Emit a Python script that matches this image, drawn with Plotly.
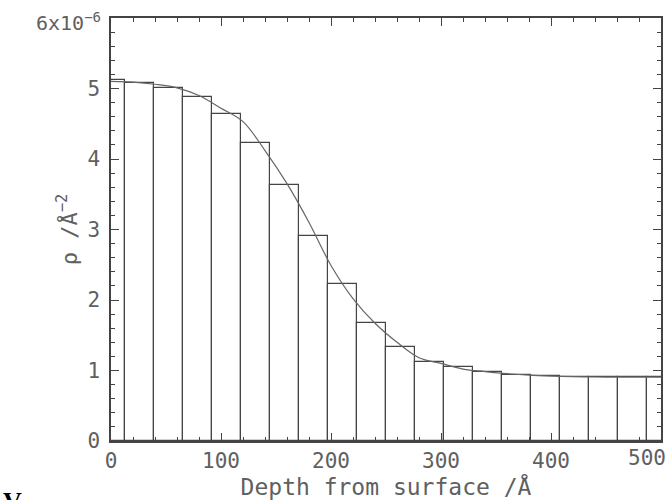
import plotly.graph_objects as go

# Histogram bins (centres, depth in Å) and heights (units of 1e-6 Å^-2)
bin_width = 500 / 19
bin_centers = [i * bin_width for i in range(20)]
bin_heights = [5.12, 5.08, 5.01, 4.88, 4.64, 4.23, 3.63, 2.91, 2.22, 1.68,
               1.33, 1.125, 1.045, 0.975, 0.94, 0.926, 0.91, 0.905, 0.905, 0.905]

# Smooth profile curve
curve_x = [0, 20, 40, 60, 80, 100, 120, 140, 160, 180, 200, 220, 240, 260,
           280, 300, 320, 340, 360, 380, 400, 420, 440, 460, 480, 500]
curve_y = [5.10, 5.09, 5.06, 5.01, 4.90, 4.72, 4.53, 4.12, 3.65, 3.10, 2.49,
           2.02, 1.67, 1.40, 1.18, 1.10, 1.02, 0.985, 0.955, 0.933, 0.92,
           0.912, 0.908, 0.905, 0.905, 0.905]

x_ticks = [0, 100, 200, 300, 400, 500]
x_ticktext = ["0", "100", "200", "300", "400", ""]
y_ticks = [0, 1, 2, 3, 4, 5, 6]
y_ticktext = ["0", "1", "2", "3", "4", "5", ""]

LINE = "#444444"
TXT = "#606060"
FONT = "DejaVu Sans Mono"

fig = go.Figure()
fig.add_trace(go.Bar(x=bin_centers, y=bin_heights, width=bin_width,
                     marker=dict(color="rgba(255,255,255,0)",
                                 line=dict(color=LINE, width=1.2)),
                     showlegend=False))
fig.add_trace(go.Scatter(x=curve_x, y=curve_y, mode="lines", xaxis="x2", yaxis="y2",
                         line=dict(color="#666666", width=1.2, shape="spline"),
                         showlegend=False))

fig.update_layout(
    width=672, height=500,
    margin=dict(l=111, r=11, t=18, b=59),
    paper_bgcolor="white", plot_bgcolor="white",
    bargap=0,
    xaxis=dict(range=[0, 500], tickvals=x_ticks, ticktext=x_ticktext,
               showgrid=False, zeroline=False, showline=True, mirror="allticks",
               linecolor=LINE, linewidth=1.5, ticks="inside", ticklen=8,
               tickwidth=1.3, tickcolor=LINE, automargin=False,
               ticklabelstandoff=0,
               tickfont=dict(family=FONT, size=21, color=TXT),
               title=dict(text="Depth from surface /Å", standoff=1,
                          font=dict(family=FONT, size=23, color=TXT))),
    yaxis=dict(range=[0, 6], tickvals=y_ticks, ticktext=y_ticktext,
               showgrid=False, zeroline=False, showline=True, mirror="allticks",
               linecolor=LINE, linewidth=1.5, ticks="inside", ticklen=8,
               tickwidth=1.3, tickcolor=LINE, automargin=False,
               ticklabelstandoff=5,
               tickfont=dict(family=FONT, size=21, color=TXT),
               title=dict(text="ρ /Å<sup>−2</sup>", standoff=4,
                          font=dict(family=FONT, size=22, color=TXT))),
    # minor-tick axes sharing the same scale
    xaxis2=dict(range=[0, 500], overlaying="x", anchor="y2", side="bottom",
                tickmode="linear", tick0=0, dtick=20, ticks="inside", ticklen=4,
                tickwidth=1.2, tickcolor=LINE, showticklabels=False,
                mirror="allticks", showline=False, showgrid=False, zeroline=False,
                automargin=False),
    yaxis2=dict(range=[0, 6], overlaying="y", anchor="x2", side="left",
                tickmode="linear", tick0=0, dtick=0.2, ticks="inside", ticklen=4,
                tickwidth=1.2, tickcolor=LINE, showticklabels=False,
                mirror="allticks", showline=False, showgrid=False, zeroline=False,
                automargin=False),
    annotations=[
        dict(text="6x10<sup>−6</sup>", xref="paper", yref="paper",
             x=-0.015, y=1.0, xanchor="right", yanchor="middle", yshift=-4,
             showarrow=False, font=dict(family=FONT, size=20, color=TXT)),
        dict(text="500", xref="paper", yref="paper",
             x=0.975, y=0, xanchor="center", yanchor="top", yshift=-3,
             showarrow=False, font=dict(family=FONT, size=21, color=TXT)),
        dict(text="<b>V</b>", xref="paper", yref="paper",
             x=-0.2, y=-0.105, xanchor="left", yanchor="top",
             showarrow=False,
             font=dict(family="Liberation Serif", size=26, color="black")),
    ],
)

fig.write_html("out.html")
